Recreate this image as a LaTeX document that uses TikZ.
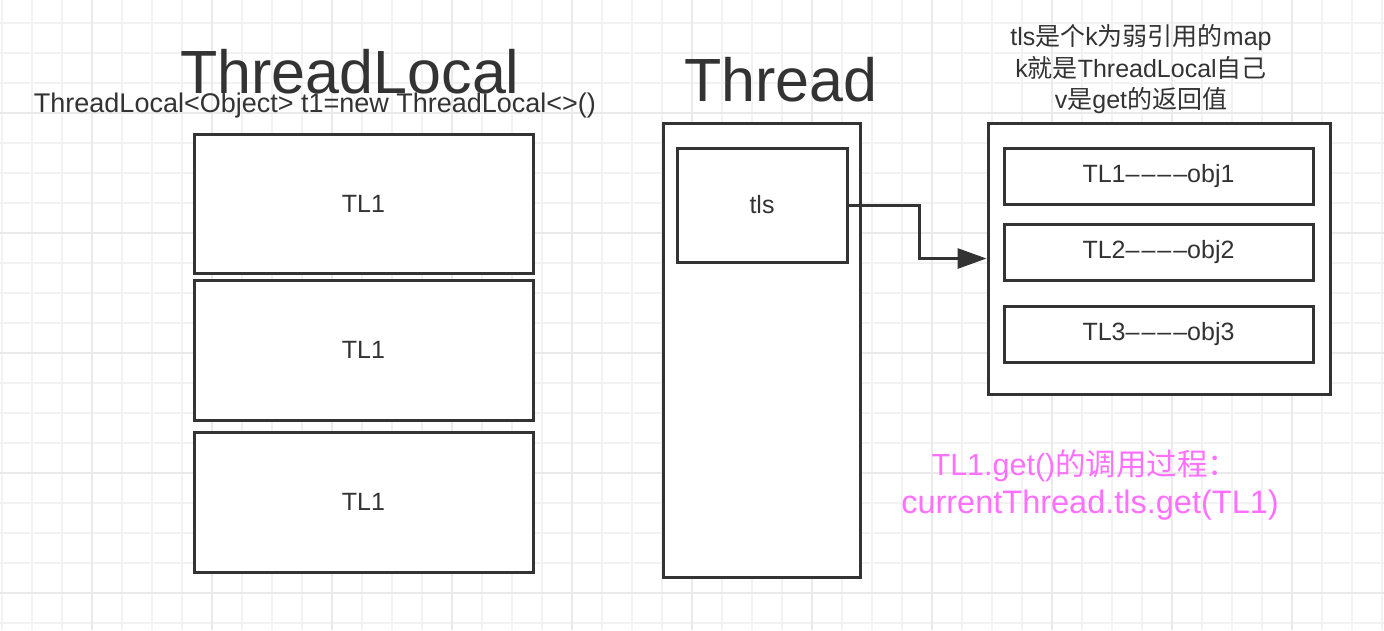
\documentclass[tikz,border=0pt]{standalone}
\usepackage{fontspec}
\setmainfont{Liberation Sans}
\newfontfamily\cjk{Noto Sans CJK SC}
\usetikzlibrary{arrows.meta}
\definecolor{ink}{HTML}{333333}
\definecolor{gridminor}{HTML}{F2F2F2}
\definecolor{gridmajor}{HTML}{EAEAEA}
\definecolor{pinktext}{HTML}{FF70FF}
\newcommand{\dsh}{–\kern2pt}
\tikzset{
  box/.style={draw=ink, line width=3pt, fill=white, text=ink, inner sep=0pt,
    font=\fontsize{25}{30}\selectfont},
  title/.style={text=ink, inner sep=0pt, anchor=base, font=\fontsize{61}{70}\selectfont},
  label/.style={text=ink, inner sep=0pt, anchor=base, font=\fontsize{25}{30}\selectfont},
  note/.style={text=pinktext, inner sep=0pt, anchor=base},
  link/.style={draw=ink, line width=3pt, -{Triangle[length=29pt,width=20pt]}},
}
\begin{document}
\begin{tikzpicture}[x=1pt,y=-1pt]
\useasboundingbox (0,0) rectangle (1384,630);
\fill[white] (0,0) rectangle (1384,630);
% grid
\foreach \x in {2,32,...,1382} \draw[gridminor, line width=1.6pt] (\x,0) -- (\x,630);
\foreach \y in {23,53,...,623} \draw[gridminor, line width=1.6pt] (0,\y) -- (1384,\y);
\foreach \x in {92,212,...,1382} \draw[gridmajor, line width=1.6pt] (\x,0) -- (\x,630);
\foreach \y in {113,233,...,623} \draw[gridmajor, line width=1.6pt] (0,\y) -- (1384,\y);

% titles
\node[title] (tltitle) at (350,93) {ThreadLocal};
\node[label, font=\fontsize{27}{32}\selectfont] (decl) at (315,112) {ThreadLocal<Object> t1=new ThreadLocal<>()};
\node[title] (thtitle) at (781,101) {Thread};

% ThreadLocal boxes
\node[box, minimum width=339pt, minimum height=139pt] (tl1) at (363.5,203.5) {TL1};
\node[box, minimum width=339pt, minimum height=140pt] (tl2) at (363.5,350) {TL1};
\node[box, minimum width=339pt, minimum height=140pt] (tl3) at (363.5,502) {TL1};

% Thread
\node[box, minimum width=197pt, minimum height=454pt] (thread) at (761.5,350) {};
\node[box, minimum width=170pt, minimum height=114pt] (tls) at (762,205) {tls};

% map
\node[box, minimum width=342pt, minimum height=271pt] (map) at (1159,258.5) {};
\node[box, minimum width=309pt, minimum height=56pt] (e1) at (1158.5,176) {TL1\dsh\dsh\dsh–obj1};
\node[box, minimum width=309pt, minimum height=56pt] (e2) at (1158.5,252) {TL2\dsh\dsh\dsh–obj2};
\node[box, minimum width=309pt, minimum height=56pt] (e3) at (1158.5,334) {TL3\dsh\dsh\dsh–obj3};

% map notes
\node[label] (n1) at (1141,45) {tls{\cjk 是个}k{\cjk 为弱引用的}map};
\node[label] (n2) at (1141,77) {k{\cjk 就是}ThreadLocal{\cjk 自己}};
\node[label] (n3) at (1141,108) {v{\cjk 是}get{\cjk 的返回值}};

% connector
\coordinate (bend) at (919,0);
\draw[link] (tls.east) -- (tls.east -| bend) |- (map.west);

% pink notes
\node[note, font=\fontsize{30.5}{36}\selectfont] (p1) at (1085,475) {TL1.get(){\cjk 的调用过程：}};
\node[note, font=\fontsize{32.5}{38}\selectfont] (p2) at (1090,513) {currentThread.tls.get(TL1)};
\end{tikzpicture}
\end{document}
